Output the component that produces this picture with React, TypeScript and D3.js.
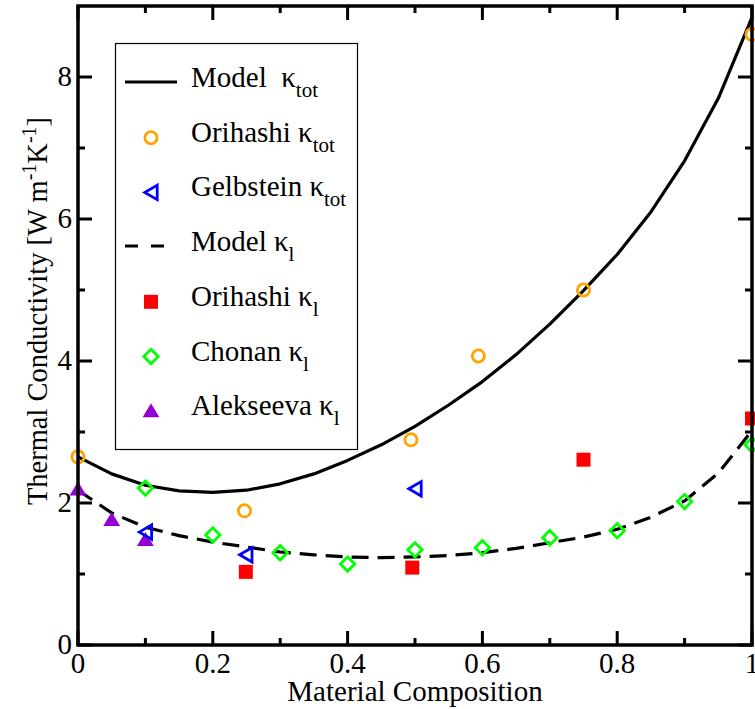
import React from "react";
import * as d3 from "d3";

const W = 755;
const H = 709;

// Model curves (sampled every 0.05)
const modelX = [0, 0.05, 0.1, 0.15, 0.2, 0.25, 0.3, 0.35, 0.4, 0.45, 0.5, 0.55, 0.6, 0.65, 0.7, 0.75, 0.8, 0.85, 0.9, 0.95, 1.0];
const modelTot = [2.65, 2.41, 2.25, 2.17, 2.15, 2.18, 2.27, 2.41, 2.6, 2.82, 3.08, 3.38, 3.71, 4.09, 4.52, 4.99, 5.5, 6.1, 6.82, 7.7, 8.84];
const modelLat = [2.18, 1.86, 1.66, 1.54, 1.45, 1.38, 1.31, 1.27, 1.24, 1.23, 1.24, 1.26, 1.3, 1.36, 1.44, 1.52, 1.63, 1.8, 2.03, 2.42, 3.02];

// Experimental data
const orihashiTotX = [0, 0.247, 0.494, 0.594, 0.75, 1.0];
const orihashiTotY = [2.65, 1.89, 2.89, 4.07, 5.0, 8.6];
const gelbsteinX = [0.1, 0.249, 0.5];
const gelbsteinY = [1.59, 1.27, 2.2];
const orihashiLatX = [0.249, 0.496, 0.75, 1.0];
const orihashiLatY = [1.03, 1.09, 2.61, 3.19];
const chonanX = [0.1, 0.2, 0.3, 0.4, 0.5, 0.6, 0.7, 0.8, 0.9, 1.0];
const chonanY = [2.21, 1.55, 1.3, 1.14, 1.34, 1.37, 1.51, 1.61, 2.02, 2.82];
const alekseevaX = [0, 0.05, 0.1];
const alekseevaY = [2.19, 1.76, 1.48];

const xTicks = [0, 0.2, 0.4, 0.6, 0.8, 1];
const xTickLabels = ["0", "0.2", "0.4", "0.6", "0.8", "1"];
const xMinor = [0.1, 0.3, 0.5, 0.7, 0.9];
const yTicks = [0, 2, 4, 6, 8];
const yMinor = [1, 3, 5, 7];

const ORANGE = "#FFA500";
const BLUE = "#0000FF";
const RED = "#FF0000";
const GREEN = "#00FF00";
const VIOLET = "#9400D3";

const FONT = "'Liberation Serif', 'Times New Roman', serif";

function Circle({ cx, cy }: { cx: number; cy: number }) {
  return <circle cx={cx} cy={cy} r={6.1} fill="none" stroke={ORANGE} strokeWidth={2.8} />;
}
function LeftTri({ cx, cy }: { cx: number; cy: number }) {
  const w = 6.2;
  const h = 7.2;
  return (
    <path
      d={`M${cx - w},${cy} L${cx + w},${cy - h} L${cx + w},${cy + h} Z`}
      fill="none"
      stroke={BLUE}
      strokeWidth={2.8}
      strokeLinejoin="miter"
    />
  );
}
function Square({ cx, cy }: { cx: number; cy: number }) {
  const s = 7;
  return <rect x={cx - s} y={cy - s} width={2 * s} height={2 * s} fill={RED} />;
}
function Diamond({ cx, cy }: { cx: number; cy: number }) {
  const s = 7.2;
  return (
    <path
      d={`M${cx},${cy - s} L${cx + s},${cy} L${cx},${cy + s} L${cx - s},${cy} Z`}
      fill="none"
      stroke={GREEN}
      strokeWidth={2.8}
    />
  );
}
function UpTri({ cx, cy }: { cx: number; cy: number }) {
  const s = 8.4;
  return (
    <path
      d={`M${cx},${cy - s * 0.95} L${cx + s},${cy + s * 0.72} L${cx - s},${cy + s * 0.72} Z`}
      fill={VIOLET}
    />
  );
}

export default function App() {
  const x = d3.scaleLinear().domain([0, 1]).range([78, 752]);
  const y = d3.scaleLinear().domain([0, 9]).range([645, 6]);
  const line = d3
    .line<number>()
    .x((_, i) => x(modelX[i]))
    .y((d) => y(d));

  const legendX = 191;
  const legendBase = (i: number) => 87 + 54.7 * i;
  const symX = 151;

  const legendLabel = (i: number, main: string, sub: string) => (
    <text
      key={"lt" + i}
      x={legendX}
      y={legendBase(i)}
      fontFamily={FONT}
      fontSize={29}
      fill="#000"
      style={{ whiteSpace: "pre" }}
    >
      {main}
      <tspan fontSize={21} dy={10}>
        {sub}
      </tspan>
    </text>
  );

  return (
    <svg width={W} height={H} style={{ position: "absolute", left: 0, top: 0, background: "#fff" }}>
      <rect x={0} y={0} width={W} height={H} fill="#fff" />

      {/* Model curves */}
      <path d={line(modelTot) || ""} fill="none" stroke="#000" strokeWidth={3.2} strokeLinejoin="round" />
      <path d={line(modelLat) || ""} fill="none" stroke="#000" strokeWidth={3.2} strokeDasharray="17,9" />

      {/* Markers */}
      {orihashiLatX.map((v, i) => (
        <Square key={"sq" + i} cx={x(v)} cy={y(orihashiLatY[i])} />
      ))}
      {alekseevaX.map((v, i) => (
        <UpTri key={"ut" + i} cx={x(v)} cy={y(alekseevaY[i])} />
      ))}
      {chonanX.map((v, i) => (
        <Diamond key={"di" + i} cx={x(v)} cy={y(chonanY[i])} />
      ))}
      {gelbsteinX.map((v, i) => (
        <LeftTri key={"lt" + i} cx={x(v)} cy={y(gelbsteinY[i])} />
      ))}
      {orihashiTotX.map((v, i) => (
        <Circle key={"ci" + i} cx={x(v)} cy={y(orihashiTotY[i])} />
      ))}

      {/* Frame */}
      <rect x={x(0)} y={y(9)} width={x(1) - x(0)} height={y(0) - y(9)} fill="none" stroke="#000" strokeWidth={3.5} />

      {/* X ticks */}
      {xTicks.map((t) => (
        <g key={"xt" + t}>
          <line x1={x(t)} x2={x(t)} y1={y(0)} y2={y(0) - 14} stroke="#000" strokeWidth={3} />
          <line x1={x(t)} x2={x(t)} y1={y(9)} y2={y(9) + 14} stroke="#000" strokeWidth={3} />
        </g>
      ))}
      {xMinor.map((t) => (
        <g key={"xm" + t}>
          <line x1={x(t)} x2={x(t)} y1={y(0)} y2={y(0) - 7} stroke="#000" strokeWidth={3} />
          <line x1={x(t)} x2={x(t)} y1={y(9)} y2={y(9) + 7} stroke="#000" strokeWidth={3} />
        </g>
      ))}
      {xTicks.map((t, i) => (
        <text key={"xl" + t} x={x(t)} y={673} textAnchor="middle" fontFamily={FONT} fontSize={29} fill="#000">
          {xTickLabels[i]}
        </text>
      ))}

      {/* Y ticks */}
      {yTicks.map((t) => (
        <g key={"yt" + t}>
          <line x1={x(0)} x2={x(0) + 14} y1={y(t)} y2={y(t)} stroke="#000" strokeWidth={3} />
          <line x1={x(1)} x2={x(1) - 14} y1={y(t)} y2={y(t)} stroke="#000" strokeWidth={3} />
        </g>
      ))}
      {yMinor.map((t) => (
        <g key={"ym" + t}>
          <line x1={x(0)} x2={x(0) + 7} y1={y(t)} y2={y(t)} stroke="#000" strokeWidth={3} />
          <line x1={x(1)} x2={x(1) - 7} y1={y(t)} y2={y(t)} stroke="#000" strokeWidth={3} />
        </g>
      ))}
      {yTicks.map((t) => (
        <text key={"yl" + t} x={72} y={y(t) + 9} textAnchor="end" fontFamily={FONT} fontSize={29} fill="#000">
          {String(t)}
        </text>
      ))}

      {/* Axis titles */}
      <text x={415} y={701} textAnchor="middle" fontFamily={FONT} fontSize={29} fill="#000">
        Material Composition
      </text>
      <text
        transform={`translate(47,311) rotate(-90)`}
        textAnchor="middle"
        fontFamily={FONT}
        fontSize={28.5}
        fill="#000"
        style={{ whiteSpace: "pre" }}
      >
        {"Thermal Conductivity [W m"}
        <tspan fontSize={20} dy={-11}>
          -1
        </tspan>
        <tspan dy={11}>{"K"}</tspan>
        <tspan fontSize={20} dy={-11}>
          -1
        </tspan>
        <tspan dy={11}>]</tspan>
      </text>

      {/* Legend */}
      <rect x={115.5} y={43.5} width={242} height={406} fill="#fff" stroke="#000" strokeWidth={1.2} />
      <line x1={125} x2={177} y1={legendBase(0) - 5} y2={legendBase(0) - 5} stroke="#000" strokeWidth={3} />
      {legendLabel(0, "Model  κ", "tot")}
      <Circle cx={symX} cy={legendBase(1) - 4} />
      {legendLabel(1, "Orihashi κ", "tot")}
      <LeftTri cx={symX} cy={legendBase(2) - 4} />
      {legendLabel(2, "Gelbstein κ", "tot")}
      <line x1={125} x2={177} y1={legendBase(3) - 5} y2={legendBase(3) - 5} stroke="#000" strokeWidth={3} strokeDasharray="13,13" />
      {legendLabel(3, "Model κ", "l")}
      <Square cx={symX} cy={legendBase(4) - 4} />
      {legendLabel(4, "Orihashi κ", "l")}
      <Diamond cx={symX} cy={legendBase(5) - 4} />
      {legendLabel(5, "Chonan κ", "l")}
      <UpTri cx={symX} cy={legendBase(6) - 4} />
      {legendLabel(6, "Alekseeva κ", "l")}
    </svg>
  );
}
